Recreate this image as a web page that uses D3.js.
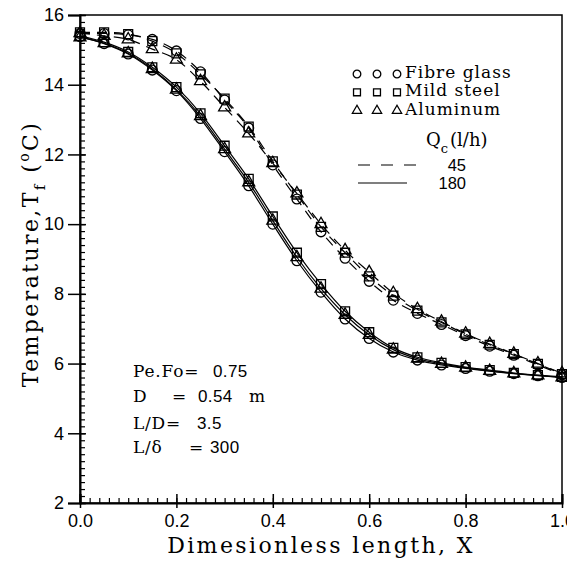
<!DOCTYPE html>
<html>
<head>
<meta charset="utf-8">
<script src="https://cdn.jsdelivr.net/npm/d3@7"></script>
<style>
  body { margin: 0; background: #fff; }
  svg { display: block; }
  .serif { font-family: "DejaVu Serif", serif; }
  .sans { font-family: "Liberation Sans", Arial, sans-serif; }
</style>
</head>
<body>
<svg id="chart" width="567" height="561"></svg>
<script>
// dimensionless length stations
const xs = [0, 0.05, 0.1, 0.15, 0.2, 0.25, 0.3, 0.35, 0.4, 0.45, 0.5,
            0.55, 0.6, 0.65, 0.7, 0.75, 0.8, 0.85, 0.9, 0.95, 1.0];

// Qc = 180 l/h (solid)
const fibre180 = [15.38, 15.18, 14.88, 14.42, 13.83, 13.03, 12.08, 11.10, 10.00, 8.95, 8.05,
                  7.28, 6.72, 6.33, 6.10, 5.96, 5.86, 5.78, 5.71, 5.65, 5.60];
const steel180 = [15.40, 15.22, 14.94, 14.50, 13.93, 13.18, 12.25, 11.30, 10.22, 9.18, 8.28,
                  7.50, 6.90, 6.45, 6.18, 6.02, 5.90, 5.81, 5.73, 5.67, 5.62];
const alum180  = [15.36, 15.19, 14.90, 14.45, 13.86, 13.10, 12.15, 11.20, 10.10, 9.05, 8.15,
                  7.40, 6.82, 6.40, 6.14, 5.99, 5.88, 5.79, 5.72, 5.66, 5.60];

// Qc = 45 l/h (dashed)
const fibre45 = [15.47, 15.47, 15.43, 15.30, 14.97, 14.37, 13.56, 12.76, 11.70, 10.72, 9.78,
                 9.02, 8.36, 7.82, 7.44, 7.12, 6.80, 6.50, 6.24, 5.96, 5.68];
const steel45 = [15.50, 15.50, 15.45, 15.25, 14.90, 14.30, 13.60, 12.80, 11.80, 10.85, 9.92,
                 9.18, 8.50, 7.95, 7.52, 7.18, 6.84, 6.54, 6.27, 5.99, 5.70];
const alum45  = [15.48, 15.40, 15.30, 15.02, 14.72, 14.10, 13.35, 12.60, 11.75, 10.88, 10.00,
                 9.25, 8.62, 8.02, 7.56, 7.20, 6.86, 6.56, 6.28, 6.00, 5.72];

const materials = ["Fibre glass", "Mild steel", "Aluminum"];
const flows = ["45", "180"];
const xTicks = [0, 0.2, 0.4, 0.6, 0.8, 1.0];
const yTicks = [2, 4, 6, 8, 10, 12, 14, 16];

const series = [
  { mat: 0, flow: 0, vals: fibre45 },
  { mat: 1, flow: 0, vals: steel45 },
  { mat: 2, flow: 0, vals: alum45 },
  { mat: 0, flow: 1, vals: fibre180 },
  { mat: 1, flow: 1, vals: steel180 },
  { mat: 2, flow: 1, vals: alum180 }
];

const svg = d3.select("#chart");
const L = 80, R = 562, T = 15, B = 503;
const x = d3.scaleLinear().domain([0, 1]).range([L, R]);
const y = d3.scaleLinear().domain([2, 16]).range([B, T]);

// frame
svg.append("rect").attr("x", L).attr("y", T).attr("width", R - L).attr("height", B - T)
  .attr("fill", "none").attr("stroke", "#000").attr("stroke-width", 1.5);

// x axis: minor then major
const xMinor = d3.range(0, 1.0001, 0.02);
svg.append("g").attr("transform", `translate(0,${B})`)
  .call(d3.axisBottom(x).tickValues(xMinor).tickSize(-5).tickFormat(""))
  .call(g => g.select(".domain").remove())
  .call(g => g.selectAll("line").attr("stroke-width", 1.2));
const gx = svg.append("g").attr("transform", `translate(0,${B})`)
  .call(d3.axisBottom(x).tickValues(xTicks).tickSize(-9).tickPadding(11).tickFormat(d3.format(".1f")));
gx.select(".domain").attr("stroke-width", 2);
gx.selectAll("line").attr("y1", 5).attr("stroke-width", 1.5);
gx.selectAll("text").attr("class", "sans").attr("font-size", 18).attr("fill", "#000");

// y axis
const yMinor = d3.range(2, 16.0001, 0.2);
svg.append("g").attr("transform", `translate(${L},0)`)
  .call(d3.axisLeft(y).tickValues(yMinor).tickSize(-5).tickFormat(""))
  .call(g => g.select(".domain").remove())
  .call(g => g.selectAll("line").attr("stroke-width", 1.2));
const gy = svg.append("g").attr("transform", `translate(${L},0)`)
  .call(d3.axisLeft(y).tickValues(yTicks).tickSize(12).tickPadding(4).tickFormat(d3.format("d")));
gy.select(".domain").attr("stroke-width", 2);
gy.selectAll("line").attr("x2", 6).attr("x1", -12).attr("stroke-width", 1.5);
gy.selectAll("text").attr("class", "sans").attr("font-size", 18).attr("fill", "#000");

// axis titles
svg.append("text").attr("class", "serif").attr("x", (L + R) / 2).attr("y", 553)
  .attr("text-anchor", "middle").attr("font-size", 22).attr("letter-spacing", 2.4)
  .text("Dimesionless length, X");

const yt = svg.append("text").attr("class", "serif").attr("font-size", 22)
  .attr("text-anchor", "middle").attr("letter-spacing", 2.4)
  .attr("transform", `translate(38,254) rotate(-90)`);
yt.append("tspan").text("Temperature,T");
yt.append("tspan").attr("font-size", 15).attr("dy", 7).text("f");
yt.append("tspan").attr("dy", -7).text(" (");
yt.append("tspan").attr("font-size", 14).attr("dy", -9).text("o");
yt.append("tspan").attr("dy", 9).text("C)");

// marker shapes
const symbols = [d3.symbolCircle, d3.symbolSquare, d3.symbolTriangle];
const symSize = [76, 80, 62];
function drawMarker(g, i, cx, cy, scale) {
  g.append("path")
    .attr("d", d3.symbol().type(symbols[i]).size(symSize[i] * scale)())
    .attr("transform", `translate(${cx},${cy})`)
    .attr("fill", "none").attr("stroke", "#000").attr("stroke-width", 1.3);
}

// curves
const line = d3.line().x((d, i) => x(xs[i])).y(d => y(d)).curve(d3.curveMonotoneX);
const plot = svg.append("g");
series.forEach(s => {
  plot.append("path").attr("d", line(s.vals))
    .attr("fill", "none").attr("stroke", "#000").attr("stroke-width", 1.2)
    .attr("stroke-dasharray", s.flow === 0 ? "10,7" : null);
});
series.forEach(s => {
  s.vals.forEach((v, i) => drawMarker(plot, s.mat, x(xs[i]), y(v), 1));
});

// legend: materials
const leg = svg.append("g");
materials.forEach((m, i) => {
  const ly = 74 + i * 18.3;
  [357, 377, 397].forEach(cx => drawMarker(leg, i, cx, ly, 0.6));
  leg.append("text").attr("class", "serif").attr("x", 405).attr("y", ly + 4)
    .attr("font-size", 17).attr("letter-spacing", 1).text(m);
});

// legend: flow rate
const q = leg.append("text").attr("class", "serif").attr("x", 426).attr("y", 146).attr("font-size", 18);
q.append("tspan").text("Q");
q.append("tspan").attr("font-size", 13).attr("dy", 7).text("c");
q.append("tspan").attr("dy", -7).attr("dx", 2).text("(l/h)");

flows.forEach((f, i) => {
  const ly = 165 + i * 18;
  leg.append("line").attr("x1", 358).attr("x2", i === 0 ? 418 : 407)
    .attr("y1", ly).attr("y2", ly).attr("stroke", "#000").attr("stroke-width", 1.2)
    .attr("stroke-dasharray", i === 0 ? "12,11" : null);
  leg.append("text").attr("class", "sans").attr("x", 466).attr("y", ly + 5.5)
    .attr("text-anchor", "end").attr("font-size", 16.5).text(f);
});

// parameters
const ann = svg.append("g").attr("font-size", 17);
function annLine(parts, yy) {
  const t = ann.append("text").attr("y", yy);
  parts.forEach(p => t.append("tspan").attr("x", p[0]).attr("class", p[2])
    .attr("letter-spacing", p[2] === "serif" ? 0.8 : 0.4).text(p[1]));
}
annLine([[133, "Pe.Fo=", "serif"], [213, "0.75", "sans"]], 377);
annLine([[133, "D", "serif"], [172, "=", "serif"], [198, "0.54", "sans"], [249, "m", "serif"]], 402);
annLine([[133, "L/D=", "serif"], [197, "3.5", "sans"]], 429);
annLine([[133, "L/\u03b4", "serif"], [189, "=", "serif"], [210, "300", "sans"]], 453);
</script>
</body>
</html>
